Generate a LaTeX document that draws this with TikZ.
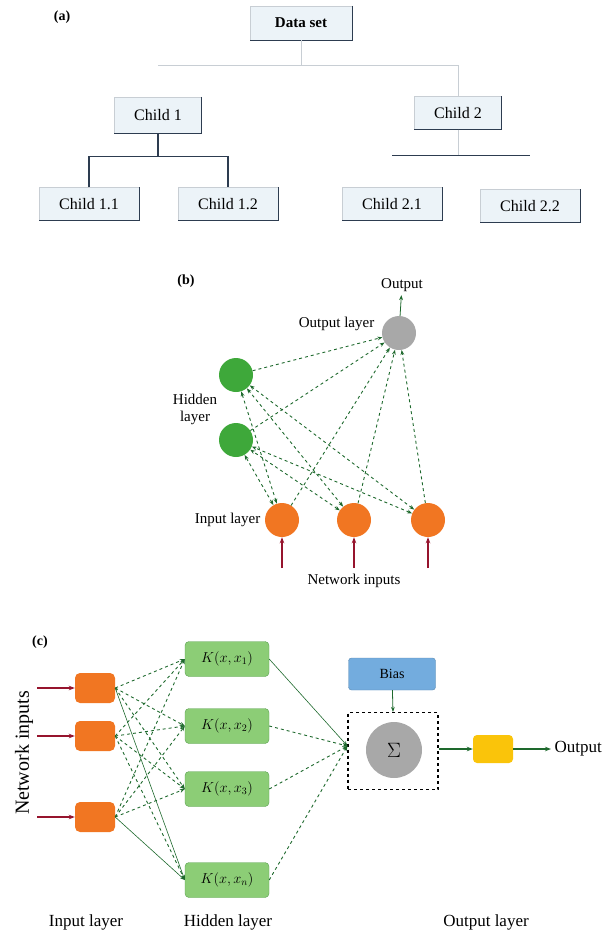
\documentclass[tikz,border=0pt]{standalone}
\usepackage{fontspec}
\setmainfont{Liberation Serif}
\usepackage{xcolor}
\usetikzlibrary{arrows.meta,positioning,calc}
\definecolor{boxfill}{RGB}{236,243,248}
\definecolor{boxedge}{RGB}{45,60,80}
\definecolor{linegray}{RGB}{200,206,212}
\definecolor{ballgreen}{RGB}{62,168,58}
\definecolor{ballorange}{RGB}{241,118,34}
\definecolor{ballgray}{RGB}{168,168,168}
\definecolor{arrowgreen}{RGB}{30,105,45}
\definecolor{inred}{RGB}{150,20,45}
\definecolor{kgreen}{RGB}{140,205,118}
\definecolor{kedge}{RGB}{90,160,80}
\definecolor{biasblue}{RGB}{115,172,222}
\definecolor{outyellow}{RGB}{250,196,10}

\tikzset{
  treebox/.style={draw=linegray, fill=boxfill, minimum width=100pt, minimum height=33pt, inner sep=0pt, font=\fontsize{16}{18}\selectfont},
  treeline/.style={linegray, line width=1pt},
  darkline/.style={boxedge, line width=1.2pt},
  ball/.style={circle, minimum size=34pt, inner sep=0pt},
  netdash/.style={arrowgreen, dashed, line width=0.9pt, -{Stealth[length=5pt]}},
  inarrow/.style={inred, line width=1.2pt, -{Stealth[length=6pt]}},
  kbox/.style={draw=kedge, fill=kgreen, rounded corners=4pt, minimum width=84pt, minimum height=35pt, font=\fontsize{14}{15}\selectfont},
  inbox/.style={fill=ballorange, rounded corners=5pt, minimum width=40pt, minimum height=30pt},
  panel/.style={font=\bfseries\fontsize{14}{16}\selectfont}
}

\begin{document}
\begin{tikzpicture}[x=1pt,y=-1pt,font=\fontsize{15}{17}\selectfont]
\useasboundingbox (0,0) rectangle (603,937);
% (a) tree of the data set
\node[panel] (labA) at (62,17) {(a)};
\node[treebox, minimum width=102pt, minimum height=34pt, font=\bfseries\fontsize{15}{18}\selectfont] (dataset) at (301,23) {Data set};
\node[treebox, minimum width=87pt, minimum height=36pt] (child1) at (158,115) {Child 1};
\node[treebox, minimum width=87pt] (child2) at (458,113) {Child 2};
\node[treebox] (child11) at (89,204) {Child 1.1};
\node[treebox] (child12) at (228,204) {Child 1.2};
\node[treebox] (child21) at (392,204) {Child 2.1};
\node[treebox] (child22) at (530,206) {Child 2.2};
\foreach \n in {dataset,child1,child2,child11,child12,child21,child22}{
  \draw[darkline] (\n.north east) -- (\n.south east) -- (\n.south west);
}
\draw[treeline] (dataset.south) -- ++(0,25) coordinate (splitA);
\draw[treeline] (child1.north |- splitA) -- (child2.north |- splitA) -- (child2.north);
\draw[darkline] (child1.south) -- ++(0,23) coordinate (splitB);
\draw[darkline] (child11.north) |- (splitB) -| (child12.north);
\draw[treeline] (child2.south) -- ++(0,26) coordinate (splitC);
\draw[boxedge, line width=1pt] (child21.north |- splitC) -- (child22.north |- splitC);

% (b) network
\node[panel] (labB) at (186,281) {(b)};
\node[ball, fill=ballgray] (out) at (399,333) {};
\node (outtext) at (402,285) {Output};
\draw[arrowgreen, line width=0.8pt, -{Stealth[length=5pt]}] (out) -- (outtext);
\node[left=4pt of out, yshift=9pt] (outlayer) {Output layer};
\node[ball, fill=ballgreen] (h1) at (236,375) {};
\node[ball, fill=ballgreen] (h2) at (236,440) {};
\node[align=center] (hidlayer) at (195,409) {Hidden\\layer};
\foreach \n/\x in {1/282,2/354,3/428}{
  \node[ball, fill=ballorange] (i\n) at (\x,520) {};
  \draw[inarrow] ($(i\n.south)+(0,31)$) -- (i\n.south);
}
\node[left=1pt of i1] (inlayer) {Input layer};
\node (netin) at (354,581) {Network inputs};
\foreach \i in {1,2,3}{
  \foreach \h in {1,2}{
    \draw[netdash, {Stealth[length=5pt]}-{Stealth[length=5pt]}] (i\i) -- (h\h);
  }
  \draw[netdash] (i\i) -- (out);
}
\foreach \h in {1,2}{
  \draw[netdash] (h\h) -- (out);
}

% (c) kernel network
\node[panel] (labC) at (40,642) {(c)};
\node[rotate=90, font=\fontsize{20}{22}\selectfont] (netinC) at (24,753) {Network inputs};
\foreach \n/\y in {1/688,2/736,3/817}{
  \node[inbox] (p\n) at (95,\y) {};
  \draw[inarrow] (37,\y) -- (p\n.west);
}
\node[kbox] (k1) at (227,659) {$K(x,x_1)$};
\node[kbox] (k2) at (227,726) {$K(x,x_2)$};
\node[kbox] (k3) at (227,789) {$K(x,x_3)$};
\node[kbox] (k4) at (227,880) {$K(x,x_n)$};
\node[draw=biasblue!80!black, fill=biasblue, rounded corners=3pt, minimum width=87pt, minimum height=32pt, font=\fontsize{14}{16}\selectfont] (bias) at (392,674) {Bias};
\node[draw, dashed, line width=1.1pt, minimum width=90pt, minimum height=77pt] (sumbox) at (393,751) {};
\node[circle, fill=ballgray, minimum size=56pt, font=\fontsize{20}{20}\selectfont] (sigma) at (394,750) {$\Sigma$};
\coordinate (join) at ($(sumbox.west)+(0,-5)$);
\draw[arrowgreen, line width=0.8pt, -{Stealth[length=5pt]}] (bias) -- (sumbox.north);
\foreach \p in {1,2,3}{
  \foreach \k in {1,2,3}{
    \draw[netdash] (p\p.east) -- (k\k.west);
  }
}
\draw[netdash, solid, line width=0.6pt] (p1.east) -- (k4.west);
\draw[netdash] (p2.east) -- (k4.west);
\draw[netdash, solid, line width=0.6pt] (p3.east) -- (k4.west);
\draw[netdash, solid, line width=0.6pt] (k1.east) -- (join);
\foreach \k in {2,3,4}{
  \draw[netdash] (k\k.east) -- (join);
}
\node[fill=outyellow, rounded corners=4pt, minimum width=40pt, minimum height=28pt] (act) at (493,749) {};
\node[anchor=west, font=\fontsize{17}{19}\selectfont] (outC) at (551,749) {Output};
\draw[arrowgreen, line width=1.1pt, -{Stealth[length=6pt]}] (sumbox.east |- act) -- (act);
\draw[arrowgreen, line width=1.1pt, -{Stealth[length=6pt]}] (act) -- (outC);
\node[font=\fontsize{17}{19}\selectfont] (inlayC) at (86,922) {Input layer};
\node[font=\fontsize{17}{19}\selectfont] (hidlayC) at (228,922) {Hidden layer};
\node[font=\fontsize{17}{19}\selectfont] (outlayC) at (486,922) {Output layer};
\end{tikzpicture}
\end{document}
